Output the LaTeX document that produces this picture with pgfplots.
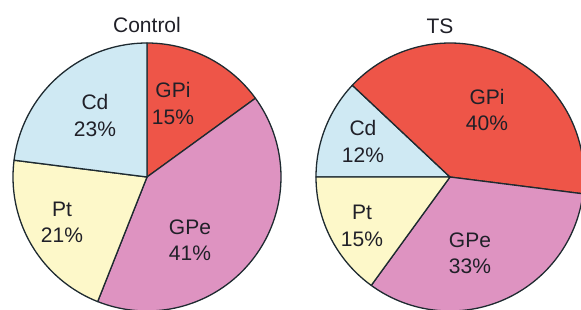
\documentclass[border=0pt]{standalone}
\usepackage{pgfplots}
\pgfplotsset{compat=1.18}
\usepackage{fontspec}
\setmainfont{Liberation Sans}
\definecolor{gpi}{HTML}{EE5548}
\definecolor{gpe}{HTML}{DE93C1}
\definecolor{pt}{HTML}{FDF8C9}
\definecolor{cd}{HTML}{CFE9F3}
\definecolor{edge}{HTML}{1E2A30}
\definecolor{txt}{HTML}{202028}
\pgfplotsset{pie/.style={scale only axis, width=268pt, height=268pt,
  xmin=-1, xmax=1, ymin=-1, ymax=1, hide axis, clip=false, anchor=south west},
  sl/.style={draw=edge, line width=1.3pt, data cs=polar, samples=80, line join=round}}
\begin{document}
\begin{tikzpicture}[x=1pt,y=1pt]
\useasboundingbox (0,0) rectangle (581,309);
\clip (0,0) rectangle (581,309);
% Control: GPi 15, GPe 41, Pt 21, Cd 23 (clockwise from top)
\begin{axis}[pie, at={(13pt,-2pt)}]
\addplot[sl, fill=gpi, domain={90-3.6*15}:90] ({x},{1}) -- (axis cs:0,0) -- cycle;
\addplot[sl, fill=gpe, domain={90-3.6*(15+41)}:{90-3.6*15}] ({x},{1}) -- (axis cs:0,0) -- cycle;
\addplot[sl, fill=pt, domain={90-3.6*(15+41+21)}:{90-3.6*(15+41)}] ({x},{1}) -- (axis cs:0,0) -- cycle;
\addplot[sl, fill=cd, domain={90-3.6*(15+41+21+23)}:{90-3.6*(15+41+21)}] ({x},{1}) -- (axis cs:0,0) -- cycle;
\end{axis}
% TS: Cd 12, GPi 40, GPe 33, Pt 15 (clockwise from left)
\begin{axis}[pie, at={(316pt,-2pt)}]
\addplot[sl, fill=cd, domain={180-3.6*12}:180] ({x},{1}) -- (axis cs:0,0) -- cycle;
\addplot[sl, fill=gpi, domain={180-3.6*(12+40)}:{180-3.6*12}] ({x},{1}) -- (axis cs:0,0) -- cycle;
\addplot[sl, fill=gpe, domain={180-3.6*(12+40+33)}:{180-3.6*(12+40)}] ({x},{1}) -- (axis cs:0,0) -- cycle;
\addplot[sl, fill=pt, domain={180-3.6*(12+40+33+15)}:{180-3.6*(12+40+33)}] ({x},{1}) -- (axis cs:0,0) -- cycle;
\end{axis}
\begin{scope}[every node/.style={text=txt, align=center, font=\fontsize{21}{26.5}\selectfont}]
\node[anchor=base] at (147,277) {Control};
\node[anchor=base] at (440,276) {TS};
\node at (173,205.5) {GPi\\15\%};
\node at (95,193.5) {Cd\\23\%};
\node at (62,86.5) {Pt\\21\%};
\node at (190,69) {GPe\\41\%};
\node at (487,199) {GPi\\40\%};
\node at (363,167.5) {Cd\\12\%};
\node at (362,83) {Pt\\15\%};
\node at (470,55.5) {GPe\\33\%};
\end{scope}
\end{tikzpicture}
\end{document}
